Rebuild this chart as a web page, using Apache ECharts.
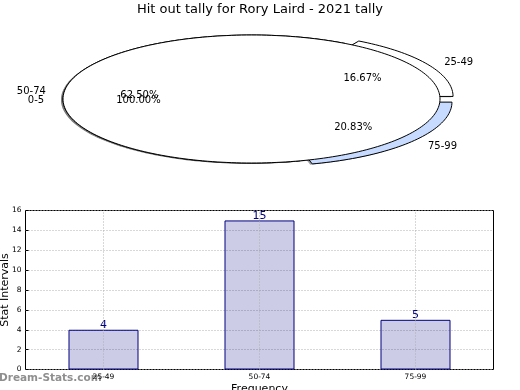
<!DOCTYPE html>
<html>
<head>
<meta charset="utf-8">
<script src="https://cdn.jsdelivr.net/npm/echarts@6/dist/echarts.min.js"></script>
<style>
html,body{margin:0;padding:0;background:#fff;}
#c{width:520px;height:390px;}
</style>
</head>
<body>
<div id="c"></div>
<script>
// ---- data ----
const titleText = 'Hit out tally for Rory Laird - 2021 tally';
const pieNames = ['25-49', '50-74', '75-99'];
const pieValues = [4, 15, 5];
const pieColors = ['#ffffff', '#ffffff', '#c6dbff'];
const pieExplode = [0.08, 0, 0.08];
const innerNames = ['0-5'];
const innerValues = [1];
const innerColors = ['#ffffff'];
const innerExplode = [0];
const barCategories = ['25-49', '50-74', '75-99'];
const barValues = [4, 15, 5];
const yMin = 0, yMax = 16, yStep = 2;

const FONT = 'DejaVu Sans';
const chart = echarts.init(document.getElementById('c'), null, {renderer: 'canvas'});

function sliceGeom(values, explode, i) {
  const total = values.reduce((a, b) => a + b, 0);
  let before = 0;
  for (let k = 0; k < i; k++) before += values[k];
  const start = before / total * Math.PI * 2;
  const end = (before + values[i]) / total * Math.PI * 2;
  const mid = (start + end) / 2;
  const e = explode[i];
  return {start, end, mid, e, total, full: values[i] === total,
          cx: e * Math.cos(mid), cy: e * Math.sin(mid)};
}

function wedgeRender(values, explode, colors, shadow) {
  return function (params, api) {
    const g = sliceGeom(values, explode, params.dataIndex);
    const pts = [];
    if (!g.full) pts.push(api.coord([g.cx, g.cy]));
    const n = Math.max(4, Math.ceil((g.end - g.start) / (Math.PI * 2) * 240));
    for (let k = 0; k <= n; k++) {
      const t = g.start + (g.end - g.start) * k / n;
      pts.push(api.coord([g.cx + Math.cos(t), g.cy + Math.sin(t)]));
    }
    if (shadow) {
      const sp = pts.map(p => [p[0] - 2, p[1] + 0.8]);
      const c = echarts.color.parse(colors[params.dataIndex]);
      const fill = 'rgba(' + Math.round(c[0] * 0.3) + ',' + Math.round(c[1] * 0.3) + ',' + Math.round(c[2] * 0.3) + ',0.5)';
      return {type: 'polygon', shape: {points: sp}, style: {fill: fill, stroke: null}};
    }
    return {type: 'polygon', shape: {points: pts},
            style: {fill: colors[params.dataIndex], stroke: '#000', lineWidth: 1}};
  };
}

function labelRender(values, explode, names) {
  return function (params, api) {
    const g = sliceGeom(values, explode, params.dataIndex);
    const c = Math.cos(g.mid), s = Math.sin(g.mid);
    const lp = api.coord([(1.1 + g.e) * c, (1.1 + g.e) * s]);
    const pp = api.coord([(0.6 + g.e) * c, (0.6 + g.e) * s]);
    const pct = (values[params.dataIndex] / g.total * 100).toFixed(2) + '%';
    const al = c > 0 ? 'left' : 'right';
    return {type: 'group', children: [
      {type: 'text', style: {text: names[params.dataIndex], x: lp[0], y: lp[1] + 1.5, align: al, textAlign: al,
        verticalAlign: 'middle', textVerticalAlign: 'middle', font: '10px "' + FONT + '"', fill: '#000'}},
      {type: 'text', style: {text: pct, x: pp[0], y: pp[1] + 1.5, align: 'center', textAlign: 'center',
        verticalAlign: 'middle', textVerticalAlign: 'middle', font: '10px "' + FONT + '"', fill: '#000'}}
    ]};
  };
}

function pieSeries(values, names, colors, explode, zWedge) {
  const data = values.map((v, i) => [i, v]);
  const base = {type: 'custom', coordinateSystem: 'cartesian2d', xAxisIndex: 0, yAxisIndex: 0,
                data: data, silent: true, animation: false, clip: false};
  return [
    Object.assign({}, base, {z: 1, renderItem: wedgeRender(values, explode, colors, true)}),
    Object.assign({}, base, {z: zWedge, renderItem: wedgeRender(values, explode, colors, false)}),
    Object.assign({}, base, {z: 10, renderItem: labelRender(values, explode, names)})
  ];
}

const option = {
  animation: false,
  backgroundColor: '#fff',
  textStyle: {fontFamily: FONT},
  title: {text: titleText, left: 'center', top: 3, padding: 0,
          textStyle: {fontFamily: FONT, fontSize: 13, fontWeight: 'normal', color: '#000'}},
  graphic: [{type: 'text', left: -1, top: 373, silent: true,
             style: {text: 'Dream-Stats.com', font: 'bold 10.5px "' + FONT + '"', fill: '#8f8f8f'}}],
  grid: [
    {left: 25.3, top: 22.2, width: 452.4, height: 153.6, show: false, containLabel: false, outerBoundsMode: 'none'},
    {left: 25.5, top: 210.5, width: 468, height: 159, show: true, borderColor: '#000', borderWidth: 1,
     backgroundColor: 'transparent', containLabel: false, outerBoundsMode: 'none'}
  ],
  xAxis: [
    {gridIndex: 0, type: 'value', min: -1.2, max: 1.2, show: false},
    {gridIndex: 1, type: 'category', data: barCategories, boundaryGap: true,
     axisLine: {show: false}, axisTick: {show: false}, splitLine: {show: false},
     axisLabel: {fontSize: 7.5, color: '#000', margin: 4, fontFamily: FONT},
     name: 'Frequency', nameLocation: 'middle', nameGap: 14, nameMoveOverlap: false,
     nameTextStyle: {fontSize: 11, color: '#000', fontFamily: FONT}}
  ],
  yAxis: [
    {gridIndex: 0, type: 'value', min: -1.2, max: 1.2, show: false},
    {gridIndex: 1, type: 'value', min: yMin, max: yMax, interval: yStep,
     axisLine: {show: false}, axisTick: {show: true, inside: true, length: 3, lineStyle: {color: '#000'}},
     axisLabel: {fontSize: 7.5, color: '#000', margin: 4, fontFamily: FONT},
     splitLine: {show: true, lineStyle: {type: [1, 2], color: '#b0b0b0', width: 1}},
     name: 'Stat Intervals', nameLocation: 'middle', nameRotate: 90, nameGap: 15, nameMoveOverlap: false,
     nameTextStyle: {fontSize: 11, color: '#000', fontFamily: FONT}}
  ],
  series: [].concat(
    pieSeries(pieValues, pieNames, pieColors, pieExplode, 2),
    pieSeries(innerValues, innerNames, innerColors, innerExplode, 3),
    [{
      type: 'bar', xAxisIndex: 1, yAxisIndex: 1, data: barValues, barWidth: 70,
      itemStyle: {color: 'rgba(0,0,128,0.2)', borderColor: '#000080', borderWidth: 1},
      label: {show: true, position: 'top', distance: -1, color: '#000080', fontSize: 11, fontFamily: FONT},
      markLine: {silent: true, symbol: ['none', 'none'], label: {show: false}, animation: false,
                 lineStyle: {type: [1, 2], color: '#b0b0b0', width: 1},
                 data: barCategories.map(c => ({xAxis: c}))}
    }]
  )
};
chart.setOption(option);
</script>
</body>
</html>
